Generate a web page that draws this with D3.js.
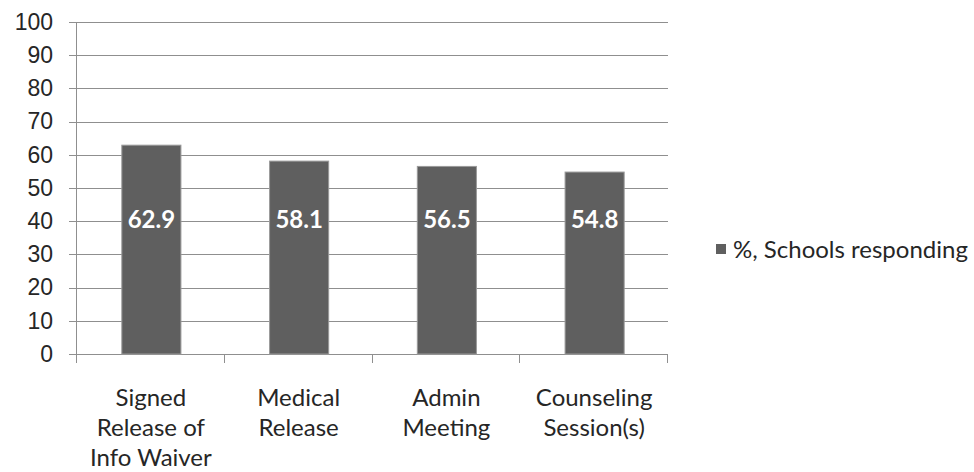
<!DOCTYPE html>
<html>
<head>
<meta charset="utf-8">
<script src="https://cdn.jsdelivr.net/npm/d3@7"></script>
<style>
  body { margin: 0; background: #fff; }
  svg { font-family: Lato, "Open Sans", sans-serif; }
  .tick text { fill: #262626; }
</style>
</head>
<body>
<div class="viz"></div>
<script>
// data
var categories = ["Signed Release of Info Waiver", "Medical Release", "Admin Meeting", "Counseling Session(s)"];
var catLines = [["Signed", "Release of", "Info Waiver"], ["Medical", "Release"], ["Admin", "Meeting"], ["Counseling", "Session(s)"]];
var values = [62.9, 58.1, 56.5, 54.8];
var yTicks = [0, 10, 20, 30, 40, 50, 60, 70, 80, 90, 100];
var seriesName = "%, Schools responding";

// dimensions
var W = 974, H = 472;
var margin = { top: 22, left: 77 };
var width = 591, height = 332;

var barColor = "#5f5f5f";
var gridColor = "#8f8f8f";

var svg = d3.select(".viz")
  .append("svg")
  .attr("width", W)
  .attr("height", H);

var g = svg.append("g")
  .attr("transform", "translate(" + margin.left + "," + margin.top + ")");

// scales
var yScale = d3.scaleLinear().domain([0, 100]).range([height, 0]);
var xScale = d3.scaleBand()
  .domain(categories)
  .range([0, width])
  .paddingInner(0.6)
  .paddingOuter(0.3);

// gridlines
g.selectAll(".grid")
  .data(yTicks)
  .enter()
  .append("line")
  .attr("x1", -8)
  .attr("x2", width)
  .attr("y1", d => Math.round(yScale(d)) + 0.5)
  .attr("y2", d => Math.round(yScale(d)) + 0.5)
  .style("stroke", gridColor)
  .style("stroke-width", 1);

// y axis
var yAxis = d3.axisLeft(yScale).tickValues(yTicks).tickSize(0).tickPadding(24);
var gY = g.append("g").call(yAxis);
gY.select(".domain").remove();
gY.selectAll("text").style("font-size", "23px");

g.append("line")
  .attr("x1", -0.5).attr("x2", -0.5)
  .attr("y1", 0).attr("y2", height)
  .style("stroke", gridColor);

// x axis ticks (category boundaries)
var bounds = d3.range(categories.length + 1).map(i => i * xScale.step());
g.selectAll(".xtick")
  .data(bounds)
  .enter()
  .append("line")
  .attr("x1", d => Math.round(d) - 0.5)
  .attr("x2", d => Math.round(d) - 0.5)
  .attr("y1", height)
  .attr("y2", height + 9)
  .style("stroke", gridColor);

// category labels
var catText = g.selectAll(".cat")
  .data(categories)
  .enter()
  .append("text")
  .attr("class", "cat")
  .attr("text-anchor", "middle")
  .attr("x", d => xScale(d) + xScale.bandwidth() / 2)
  .attr("y", height + 52)
  .style("font-size", "24px")
  .style("fill", "#262626");

catText.selectAll("tspan")
  .data((d, i) => catLines[i])
  .enter()
  .append("tspan")
  .attr("x", function() { return this.parentNode.getAttribute("x"); })
  .attr("dy", (d, i) => i === 0 ? 0 : 30)
  .text(d => d);

// bars
g.selectAll(".bar")
  .data(values)
  .enter()
  .append("rect")
  .attr("class", "bar")
  .attr("x", (d, i) => xScale(categories[i]) + 0.5)
  .attr("width", xScale.bandwidth())
  .attr("y", d => yScale(d))
  .attr("height", d => height - yScale(d))
  .style("fill", barColor)
  .style("stroke", "#9a9a9a")
  .style("stroke-width", 1);

// value labels
g.selectAll(".val")
  .data(values)
  .enter()
  .append("text")
  .attr("class", "val")
  .attr("text-anchor", "middle")
  .attr("x", (d, i) => xScale(categories[i]) + xScale.bandwidth() / 2 + 0.5)
  .attr("y", yScale(40.6))
  .attr("dy", "0.36em")
  .style("font-size", "24px")
  .style("font-weight", "bold")
  .style("fill", "#fff")
  .text(d => d.toFixed(1));

// legend
var legend = svg.append("g").attr("transform", "translate(716,249)");
legend.append("rect")
  .attr("x", 0).attr("y", -5)
  .attr("width", 10).attr("height", 10)
  .style("fill", barColor);
legend.append("text")
  .attr("x", 17)
  .attr("dy", "0.36em")
  .style("font-size", "24px")
  .style("fill", "#262626")
  .text(seriesName);
</script>
</body>
</html>
